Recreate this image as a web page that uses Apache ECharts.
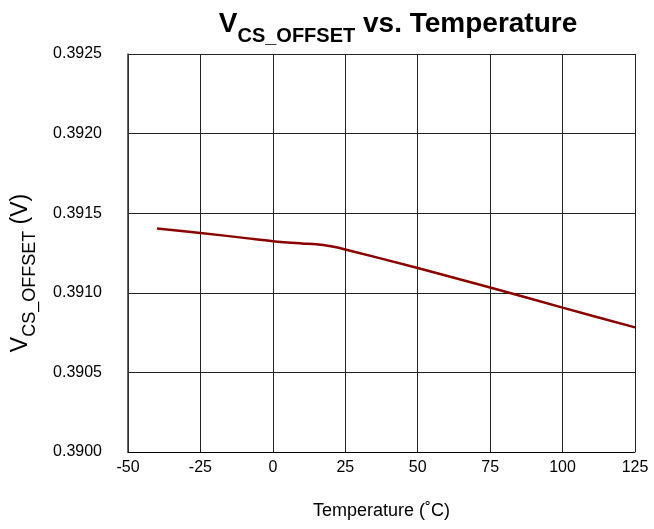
<!DOCTYPE html>
<html><head><meta charset="utf-8">
<script src="https://cdn.jsdelivr.net/npm/echarts@6/dist/echarts.min.js"></script>
<style>html,body{margin:0;padding:0;background:#fff}#c{width:654px;height:529px}</style>
</head><body><div id="c"></div>
<script>
const temps = [-40, -25, -10, 0, 10, 15, 20, 25, 50, 75, 100, 125];
const vcsOffset = [0.391404, 0.391376, 0.391345, 0.391324, 0.391310, 0.391305, 0.391292, 0.391272, 0.391156, 0.391033, 0.390907, 0.390783];
const xTicks = [-50, -25, 0, 25, 50, 75, 100, 125];
const yTicks = [0.3900, 0.3905, 0.3910, 0.3915, 0.3920, 0.3925];

const F = 'Liberation Sans, Arial, sans-serif';
const chart = echarts.init(document.getElementById('c'));
chart.setOption({
  animation: false,
  title: {
    text: '{m|V}{s|CS_OFFSET}{m| vs. Temperature}',
    left: 393, top: 1, textAlign: 'center',
    textStyle: {
      rich: {
        m: {fontFamily: F, fontSize: 28, fontWeight: 'bold', color: '#000', lineHeight: 32, verticalAlign: 'bottom'},
        s: {fontFamily: F, fontSize: 20, fontWeight: 'bold', color: '#000', lineHeight: 32, verticalAlign: 'bottom', padding: [0,0,-8,0]}
      }
    }
  },
  grid: {left: 128, right: 19, top: 54, bottom: 77, containLabel: false},
  xAxis: {
    type: 'value', min: -50, max: 125, interval: 25,
    name: 'Temperature (˚C)', nameLocation: 'middle', nameGap: 50,
    nameTextStyle: {fontFamily: F, fontSize: 18, color: '#000'},
    axisLine: {show: true, onZero: false, lineStyle: {color: '#000', width: 1}},
    axisTick: {show: false},
    axisLabel: {fontFamily: F, fontSize: 16, color: '#000', margin: 8,
      formatter: v => xTicks.includes(v) ? String(v) : ''},
    splitLine: {show: true, lineStyle: {color: '#222', width: 1}}
  },
  yAxis: {
    type: 'value', min: 0.3900, max: 0.3925, interval: 0.0005,
    name: '{m|V}{s|CS_OFFSET}{m| (V)}', nameLocation: 'middle', nameGap: 96,
    nameTextStyle: {
      padding: [0, 40, 0, 0],
      rich: {
        m: {fontFamily: F, fontSize: 23, color: '#000', lineHeight: 28, verticalAlign: 'bottom'},
        s: {fontFamily: F, fontSize: 18, color: '#000', lineHeight: 28, verticalAlign: 'bottom', padding: [0,0,-7,0]}
      }
    },
    axisLine: {show: true, onZero: false, lineStyle: {color: '#333', width: 1.5}},
    axisTick: {show: false},
    axisLabel: {fontFamily: F, fontSize: 16, color: '#000', margin: 26,
      formatter: v => v.toFixed(4)},
    splitLine: {show: true, lineStyle: {color: '#222', width: 1}}
  },
  series: [{
    type: 'line', smooth: 0.3, symbol: 'none',
    lineStyle: {color: '#8B0000', width: 2.5},
    data: temps.map((t, i) => [t, vcsOffset[i]])
  }]
});
</script></body></html>
